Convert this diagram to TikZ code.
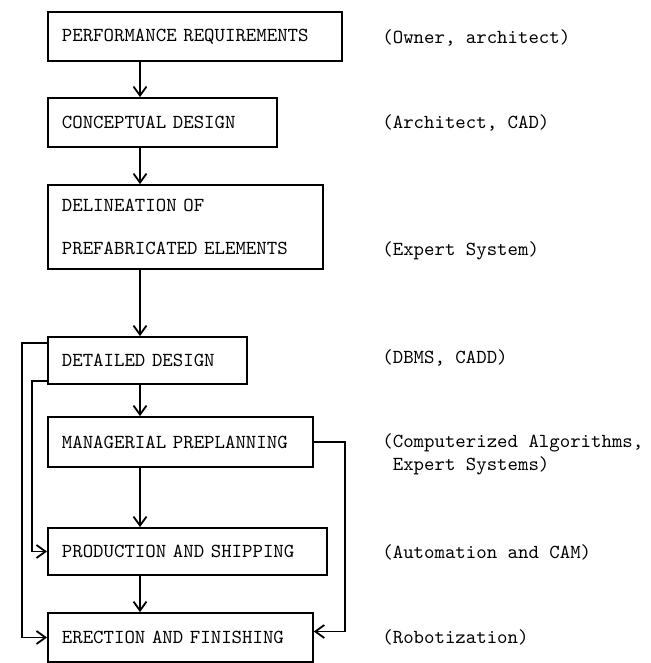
\documentclass[tikz,border=0pt]{standalone}
\usetikzlibrary{arrows.meta}
\begin{document}
\begin{tikzpicture}[x=0.5pt,y=-0.5pt,
    font=\ttfamily\fontsize{9.94}{11.5}\selectfont,
    stage/.style 2 args={draw, line width=.9pt, anchor=west, align=left,
      inner xsep=7pt, inner ysep=0pt, text width=#1, minimum height=#2},
    note/.style={anchor=west, align=left, inner sep=0pt},
    flow/.style={line width=.9pt, -{Straight Barb[length=4.5pt,width=6.5pt]}}]
    \useasboundingbox (0,0) rectangle (651,663);
    % stages
    \node[stage={133pt}{24.5pt}] (a) at (47,36.5) {PERFORMANCE REQUIREMENTS};
    \node[stage={100.5pt}{24.5pt}] (b) at (47,122.5) {CONCEPTUAL DESIGN};
    \node[stage={123.5pt}{42pt}] (c) at (47,227) {DELINEATION OF\\[10pt]PREFABRICATED ELEMENTS};
    \node[stage={85.5pt}{23.5pt}] (d) at (47,360.5) {DETAILED DESIGN};
    \node[stage={118.5pt}{25pt}] (e) at (47,442) {MANAGERIAL PREPLANNING};
    \node[stage={125.5pt}{23.5pt}] (f) at (47,551.5) {PRODUCTION AND SHIPPING};
    \node[stage={118.5pt}{24.5pt}] (g) at (47,637.5) {ERECTION AND FINISHING};
    % tools
    \node[note] (la) at (382,38) {(Owner, architect)};
    \node[note] (lb) at (382,123) {(Architect, CAD)};
    \node[note] (lc) at (382,251) {(Expert System)};
    \node[note] (ld) at (382,358) {(DBMS, CADD)};
    \node[note] (le) at (382,454) {(Computerized Algorithms,\\\hphantom{(}Expert Systems)};
    \node[note] (lf) at (382,552) {(Automation and CAM)};
    \node[note] (lg) at (382,637) {(Robotization)};
    % main flow
    \coordinate (m) at (140,0);
    \foreach \u/\v in {a/b,b/c,c/d,d/e,e/f,f/g}
        \draw[flow] (\u.south -| m) -- (\v.north -| m);
    % feedback
    \draw[flow] ([yshift=-3.5pt]d.north west) -- ++(-25,0) |- (g.west);
    \draw[flow] ([yshift=2pt]d.south west) -- ++(-15,0) |- (f.west);
    \draw[flow] (e.east) -- ++(31,0) |- ([yshift=3pt]g.east);
\end{tikzpicture}
\end{document}
